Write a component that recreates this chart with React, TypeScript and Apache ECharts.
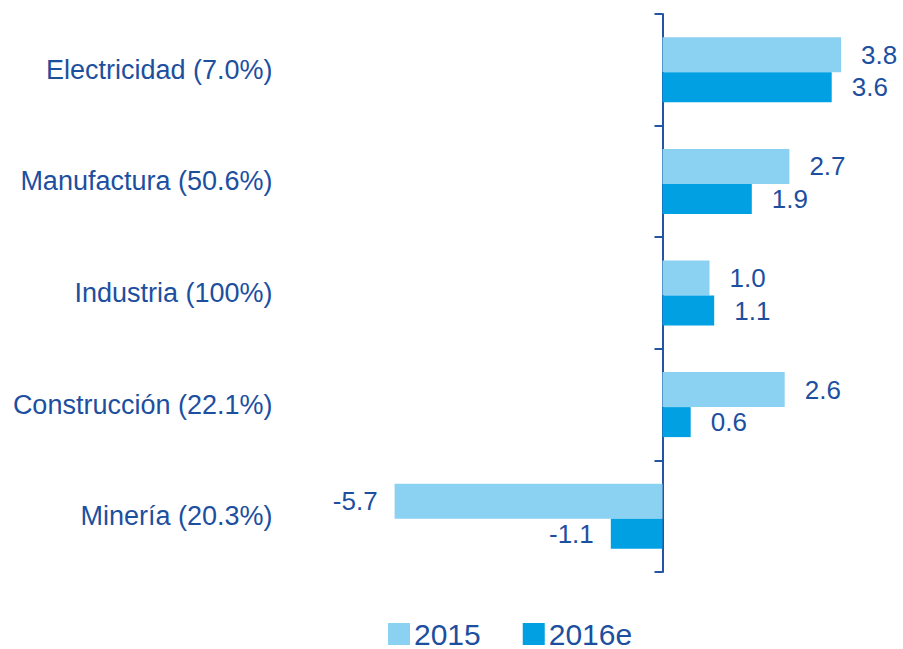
import React, { useEffect, useRef } from "react";
import * as echarts from "echarts";

const categories = [
  "Electricidad (7.0%)",
  "Manufactura (50.6%)",
  "Industria (100%)",
  "Construcción (22.1%)",
  "Minería (20.3%)",
];
const series2015 = [3.8, 2.7, 1.0, 2.6, -5.7];
const series2016e = [3.6, 1.9, 1.1, 0.6, -1.1];
const seriesNames = ["2015", "2016e"];

const TEXT = "#1D4F9F";
const FONT = "'Liberation Sans', Arial, sans-serif";

function makeData(values: number[]) {
  return values.map((v) => ({
    value: v,
    label: {
      position: v < 0 ? "left" : "right",
      distance: v < 0 ? 17 : 20,
    },
  }));
}

export default function App() {
  const ref = useRef<HTMLDivElement>(null);
  useEffect(() => {
    if (!ref.current) return;
    const chart = echarts.init(ref.current, null, { renderer: "svg" });
    const label = {
      show: true,
      color: TEXT,
      fontSize: 26,
      fontFamily: FONT,
      formatter: (p: any) => Number(p.value).toFixed(1),
    };
    chart.setOption({
      animation: false,
      textStyle: { fontFamily: FONT },
      grid: {
        left: 380.5,
        right: 5.5,
        top: 14,
        bottom: 77,
        containLabel: false,
        outerBoundsMode: "none",
      },
      legend: {
        left: 388,
        top: 619,
        padding: 0,
        icon: "rect",
        itemWidth: 22,
        itemHeight: 22,
        itemGap: 42,
        textStyle: { color: TEXT, fontSize: 30, fontFamily: FONT, padding: [4, 0, 0, -1] },
        data: seriesNames,
      },
      xAxis: {
        type: "value",
        min: -6,
        max: 5,
        show: false,
      },
      yAxis: {
        type: "category",
        inverse: true,
        data: categories,
        axisLine: { onZero: true, lineStyle: { color: "#2455A4", width: 2 } },
        axisTick: { show: true, length: 8, lineStyle: { color: "#2455A4", width: 2 } },
        axisLabel: {
          margin: 108,
          color: TEXT,
          fontSize: 27,
          fontFamily: FONT,
        },
        splitLine: { show: false },
      },
      series: [
        {
          name: seriesNames[0],
          type: "bar",
          barWidth: 35,
          barGap: "0%",
          itemStyle: { color: "#8BD1F2" },
          label,
          data: makeData(series2015),
        },
        {
          name: seriesNames[1],
          type: "bar",
          barWidth: 30,
          barGap: "0%",
          itemStyle: { color: "#00A0E3" },
          label,
          data: makeData(series2016e),
        },
      ],
    });
    return () => chart.dispose();
  }, []);
  return (
    <div
      ref={ref}
      style={{ position: "absolute", left: 0, top: 0, width: 903, height: 649 }}
    />
  );
}
